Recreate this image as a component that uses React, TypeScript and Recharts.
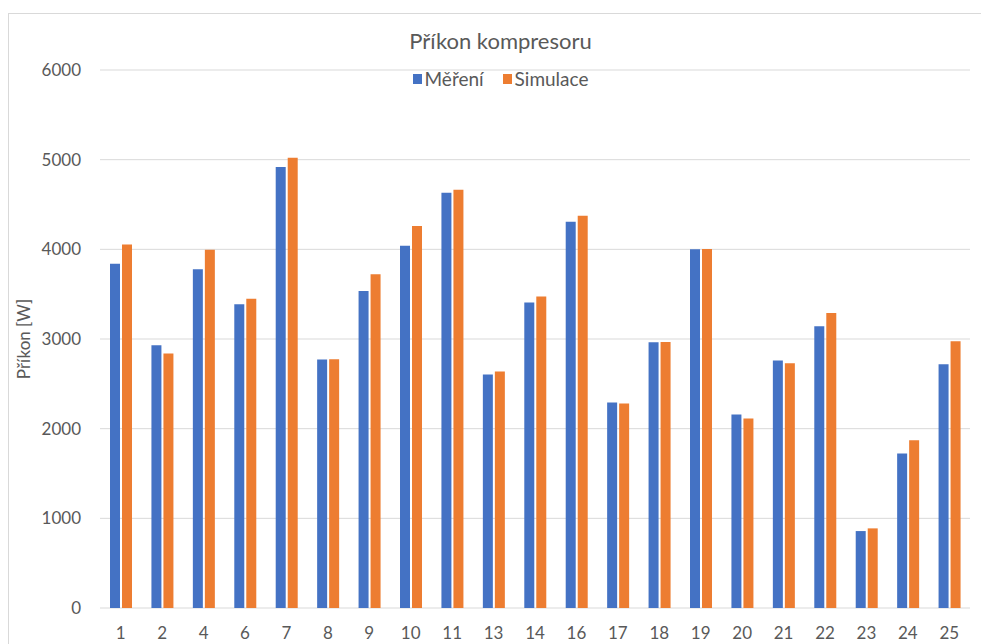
import { Bar, BarChart, CartesianGrid, Legend, XAxis, YAxis } from "recharts";

// Test numbers (x-axis categories) and compressor power in W
const categories = ["1", "2", "4", "6", "7", "8", "9", "10", "11", "13", "14", "16", "17", "18", "19", "20", "21", "22", "23", "24", "25"];
const mereni = [3840, 2930, 3777, 3387, 4917, 2771, 3536, 4041, 4631, 2604, 3406, 4308, 2292, 2964, 4000, 2158, 2760, 3142, 858, 1724, 2719];
const simulace = [4055, 2838, 3996, 3450, 5021, 2774, 3721, 4260, 4665, 2637, 3473, 4375, 2281, 2967, 4004, 2113, 2730, 3290, 888, 1872, 2975];
const yTicks = [0, 1000, 2000, 3000, 4000, 5000, 6000];

const FONT = "Lato, 'Open Sans', sans-serif";
const TEXT = "#595959";

const data = categories.map((c, i) => ({
  cat: c,
  mereni: mereni[i],
  simulace: simulace[i],
}));

interface LegendEntry {
  value: string;
  color?: string;
}

function LegendContent({ payload }: { payload?: LegendEntry[] }) {
  if (!payload) return null;
  return (
    <div
      style={{
        display: "flex",
        justifyContent: "center",
        gap: 19,
        fontFamily: FONT,
        fontSize: 19,
        color: TEXT,
        lineHeight: "22px",
      }}
    >
      {payload.map((p) => (
        <span key={p.value} style={{ display: "flex", alignItems: "center" }}>
          <span
            style={{
              display: "inline-block",
              width: 9,
              height: 10,
              background: p.color,
              marginRight: 3,
            }}
          />
          {p.value}
        </span>
      ))}
    </div>
  );
}

// rotated y-axis title, centred on the plot height
function YLabel(props: any) {
  const vb = props.viewBox ?? {};
  const cy = (vb.y ?? 0) + (vb.height ?? 0) / 2;
  return (
    <text
      x={23}
      y={cy}
      transform={`rotate(-90 23 ${cy})`}
      textAnchor="middle"
      dominantBaseline="central"
      fill={TEXT}
      fontFamily={FONT}
      fontSize={17}
    >
      Příkon [W]
    </text>
  );
}

export default function App() {
  return (
    <div style={{ position: "absolute", left: 0, top: 0, width: 981, height: 644, background: "#fff" }}>
      {/* chart frame, cropped like the source */}
      <div
        style={{
          position: "absolute",
          left: 8,
          top: 13,
          width: 980,
          height: 640,
          borderTop: "1px solid #d9d9d9",
          borderLeft: "1px solid #d9d9d9",
        }}
      />
      <div
        style={{
          position: "absolute",
          left: 0,
          top: 27,
          width: 1001,
          textAlign: "center",
          fontFamily: FONT,
          fontSize: 22,
          lineHeight: "28px",
          color: TEXT,
        }}
      >
        Příkon kompresoru
      </div>
      <BarChart
        width={981}
        height={644}
        data={data}
        margin={{ top: 70, right: 11, left: 0, bottom: 6 }}
        barSize={10}
        barGap={2}
        style={{ position: "absolute", left: 0, top: 0 }}
      >
        <CartesianGrid stroke="#d9d9d9" vertical={false} />
        <XAxis
          dataKey="cat"
          axisLine={false}
          tickLine={false}
          tickSize={0}
          tickMargin={19}
          height={30}
          interval={0}
          tick={{ fill: TEXT, fontSize: 17, fontFamily: FONT }}
        />
        <YAxis
          domain={[0, 6000]}
          ticks={yTicks}
          width={100}
          axisLine={false}
          tickLine={false}
          tickSize={0}
          tickMargin={19}
          tick={{ fill: TEXT, fontSize: 17, fontFamily: FONT }}
          label={YLabel}
        />
        <Legend
          layout="horizontal"
          verticalAlign="middle"
          align="center"
          content={<LegendContent />}
          wrapperStyle={{ top: 68, left: 0, width: 1001 }}
        />
        <Bar dataKey="mereni" name="Měření" fill="#4472C4" isAnimationActive={false} />
        <Bar dataKey="simulace" name="Simulace" fill="#ED7D31" isAnimationActive={false} />
      </BarChart>
    </div>
  );
}
